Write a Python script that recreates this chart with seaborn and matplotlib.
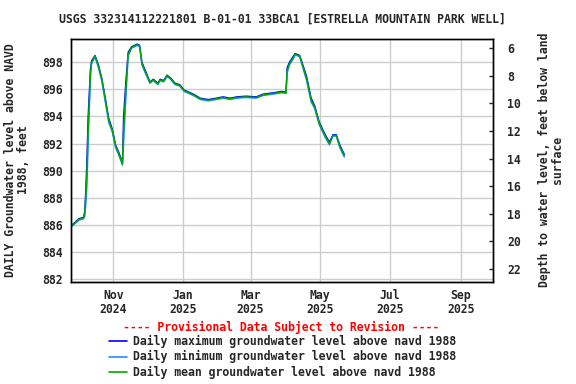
import matplotlib
matplotlib.use("Agg")
import matplotlib.pyplot as plt
from matplotlib.lines import Line2D
import seaborn as sns
import pandas as pd

# ---- data ----
dates = ["2024-09-26", "2024-10-02", "2024-10-06", "2024-10-07", "2024-10-08", "2024-10-09",
         "2024-10-10", "2024-10-12", "2024-10-13", "2024-10-16", "2024-10-19", "2024-10-22",
         "2024-10-25", "2024-10-28", "2024-10-31", "2024-11-03", "2024-11-06", "2024-11-09",
         "2024-11-10", "2024-11-12", "2024-11-14", "2024-11-17", "2024-11-22", "2024-11-24",
         "2024-11-26", "2024-11-29", "2024-12-03", "2024-12-06", "2024-12-10", "2024-12-12",
         "2024-12-15", "2024-12-18", "2024-12-21", "2024-12-25", "2024-12-29", "2025-01-02",
         "2025-01-10", "2025-01-16", "2025-01-23", "2025-01-30", "2025-02-05", "2025-02-11",
         "2025-02-17", "2025-02-25", "2025-03-06", "2025-03-12", "2025-03-21", "2025-03-28",
         "2025-04-01", "2025-04-02", "2025-04-04", "2025-04-07", "2025-04-09", "2025-04-13",
         "2025-04-15", "2025-04-19", "2025-04-23", "2025-04-26", "2025-04-30", "2025-05-05",
         "2025-05-09", "2025-05-12", "2025-05-15", "2025-05-18", "2025-05-22"]

level_mean = [885.95, 886.40, 886.50, 886.80, 888.10, 890.00,
              893.00, 897.20, 898.00, 898.45, 897.70, 896.70,
              895.20, 893.70, 893.00, 891.80, 891.20, 890.50,
              893.00, 896.00, 898.60, 899.10, 899.30, 899.20,
              897.90, 897.30, 896.50, 896.70, 896.40, 896.70,
              896.60, 897.00, 896.80, 896.40, 896.30, 895.90,
              895.60, 895.30, 895.20, 895.30, 895.40, 895.30,
              895.40, 895.45, 895.40, 895.60, 895.70, 895.80,
              895.75, 897.40, 897.90, 898.30, 898.60, 898.45,
              897.90, 896.80, 895.20, 894.70, 893.50, 892.60,
              892.00, 892.60, 892.60, 891.80, 891.10]

level_max = [886.00, 886.45, 886.55, 887.00, 888.60, 891.00,
             894.00, 897.50, 898.10, 898.50, 897.80, 896.80,
             895.35, 893.85, 893.10, 891.90, 891.30, 890.60,
             894.00, 896.60, 898.75, 899.15, 899.35, 899.25,
             898.00, 897.40, 896.55, 896.75, 896.45, 896.75,
             896.65, 897.05, 896.85, 896.45, 896.35, 895.95,
             895.65, 895.35, 895.25, 895.35, 895.45, 895.35,
             895.45, 895.50, 895.45, 895.65, 895.75, 895.85,
             895.80, 897.60, 898.00, 898.40, 898.65, 898.50,
             898.00, 896.95, 895.35, 894.80, 893.60, 892.70,
             892.10, 892.65, 892.65, 891.90, 891.20]

level_min = [885.90, 886.35, 886.45, 886.60, 887.60, 889.00,
             892.00, 896.90, 897.90, 898.40, 897.60, 896.60,
             895.05, 893.55, 892.90, 891.70, 891.10, 890.40,
             892.00, 895.40, 898.45, 899.05, 899.25, 899.15,
             897.80, 897.20, 896.45, 896.65, 896.35, 896.65,
             896.55, 896.95, 896.75, 896.35, 896.25, 895.85,
             895.55, 895.25, 895.15, 895.25, 895.35, 895.25,
             895.35, 895.40, 895.35, 895.55, 895.65, 895.75,
             895.70, 897.20, 897.80, 898.20, 898.55, 898.40,
             897.80, 896.65, 895.05, 894.60, 893.40, 892.50,
             891.90, 892.55, 892.55, 891.70, 891.00]

x_tick_dates = ["2024-11-01", "2025-01-01", "2025-03-01", "2025-05-01", "2025-07-01", "2025-09-01"]
x_tick_labels = ["Nov\n2024", "Jan\n2025", "Mar\n2025", "May\n2025", "Jul\n2025", "Sep\n2025"]
left_ticks = [882, 884, 886, 888, 890, 892, 894, 896, 898]
right_ticks = [6, 8, 10, 12, 14, 16, 18, 20, 22]

title = "USGS 332314112221801 B-01-01 33BCA1 [ESTRELLA MOUNTAIN PARK WELL]"
left_label = "DAILY Groundwater level above NAVD\n1988, feet"
right_label = "Depth to water level, feet below land\nsurface"
legend_labels = ["Daily maximum groundwater level above navd 1988",
                 "Daily minimum groundwater level above navd 1988",
                 "Daily mean groundwater level above navd 1988"]
series_colors = ["#0000ff", "#1e90ff", "#00a800"]

# ---- plotting ----
sns.set_style("white")
MONO = ["DejaVu Sans Mono"]
plt.rcParams["font.family"] = MONO
plt.rcParams["font.weight"] = "bold"
FS = 8.3

df = pd.DataFrame({"date": pd.to_datetime(dates),
                   "max": level_max, "min": level_min, "mean": level_mean})

fig = plt.figure(figsize=(5.76, 3.84), dpi=100)
ax = fig.add_axes([71 / 576, 1 - 282 / 384, (493 - 71) / 576, (282 - 39) / 384])

for col, c in zip(["max", "min", "mean"], series_colors):
    sns.lineplot(data=df, x="date", y=col, ax=ax, color=c, lw=1.0, legend=False)

ax.set_xlim(pd.Timestamp("2024-09-25"), pd.Timestamp("2025-09-29"))
ax.set_ylim(881.78, 899.72)
ax.set_xticks(pd.to_datetime(x_tick_dates))
ax.set_xticklabels(x_tick_labels, fontsize=FS, fontweight="bold", linespacing=1.15)
ax.set_yticks(left_ticks)
ax.set_yticklabels([str(v) for v in left_ticks], fontsize=FS, fontweight="bold")
ax.tick_params(axis="both", length=0, pad=6)
ax.tick_params(axis="x", pad=5)
ax.grid(True, color="#cccccc", lw=1)
ax.set_axisbelow(True)
ax.set_xlabel("")
ax.set_ylabel("")
for s in ax.spines.values():
    s.set_color("black")
    s.set_linewidth(1)

ax2 = ax.twinx()
ax2.set_ylim(22.94, 5.33)
ax2.set_yticks(right_ticks)
ax2.set_yticklabels([str(v) for v in right_ticks], fontsize=FS, fontweight="bold")
ax2.tick_params(axis="y", direction="in", length=3, width=1, pad=10)
ax2.grid(False)
for s in ax2.spines.values():
    s.set_color("black")
    s.set_linewidth(1)

fig.text(282 / 576, 1 - 19 / 384, title, ha="center", va="center",
         fontsize=FS, fontweight="bold", family=MONO)
fig.text(17 / 576, 1 - 160 / 384, left_label, ha="center", va="center",
         rotation=90, fontsize=FS, fontweight="bold", family=MONO, linespacing=1.0)
fig.text(551 / 576, 1 - 160 / 384, right_label, ha="center", va="center",
         rotation=90, fontsize=FS, fontweight="bold", family=MONO, linespacing=1.0)

fig.text(281 / 576, 1 - 327 / 384, "---- Provisional Data Subject to Revision ----",
         ha="center", va="center", color="red", fontsize=FS, fontweight="bold", family=MONO)
for i, (lab, c) in enumerate(zip(legend_labels, series_colors)):
    yy = 1 - (341 + i * 15.5) / 384
    fig.add_artist(Line2D([109 / 576, 127 / 576], [yy, yy], color=c, lw=1.2,
                          transform=fig.transFigure))
    fig.text(133 / 576, yy, lab, ha="left", va="center", fontsize=FS,
             fontweight="bold", family=MONO)

fig.savefig("out.png", dpi=100)
